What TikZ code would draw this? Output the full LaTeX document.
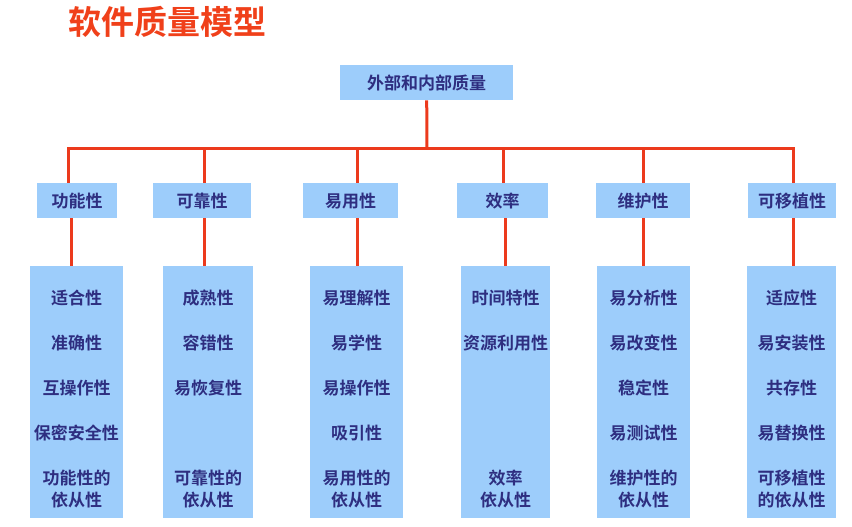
\documentclass[tikz,border=0pt]{standalone}
\usepackage{fontspec}
\setmainfont{Noto Sans CJK SC}[BoldFont={Noto Sans CJK SC Bold}]
\definecolor{boxblue}{HTML}{9DCDFB}
\definecolor{txt}{HTML}{2E2E80}
\definecolor{ln}{HTML}{EC3A1C}
\definecolor{ttl}{HTML}{F0401A}
\begin{document}
\begin{tikzpicture}[x=1pt,y=-1pt,
  bx/.style={fill=boxblue,draw=none,inner sep=0pt,anchor=north west},
  lab/.style={text=txt,font=\fontsize{17}{22}\selectfont\bfseries,align=center,inner sep=0pt},
  con/.style={draw=ln,line width=3pt}]
\useasboundingbox (0,0) rectangle (852,527);
\node[text=ttl,font=\fontsize{33}{36}\selectfont\bfseries,anchor=west,inner sep=0pt] (title) at (68,22) {软件质量模型};
\node[bx,minimum width=173pt,minimum height=35pt] (root) at (340,65) {};
\node[lab] (rootl) at (root.center) {外部和内部质量};
\coordinate (hl) at (68,148); \coordinate (hr) at (793,148);
\coordinate (rb) at (427,148);
\draw[con] (root.south) -- (rb);
\draw[con] ([yshift=-1.5pt]hl) -- (hl) -- (hr) -- ([yshift=-1.5pt]hr);
\foreach \n/\t/\xa/\w/\d/\ta/\tw/\lx in {
 a/功能性/37/80/68/30/93/71,
 b/可靠性/153/98/204/163/90/204,
 c/易用性/303/95/357/310/93/357,
 d/效率/457/91/503/461/89/505,
 e/维护性/596/94/643/597/93/643,
 f/可移植性/748/88/793/747/89/793}{
  \node[bx,minimum width=\w pt,minimum height=35pt] (c\n) at (\xa,183) {};
  \node[lab] (cl\n) at (c\n.center) {\t};
  \node[bx,minimum width=\tw pt,minimum height=252pt] (t\n) at (\ta,266) {};
  \coordinate (dt\n) at (\d,148);
  \draw[con] (dt\n) -- (\d,183);
  \draw[con] (\lx,218) -- (\lx,266);
}
\foreach \n/\x/\i/\j/\k/\l/\m in {
 a/76.5/适合性/准确性/互操作性/保密安全性/功能性的\\依从性,
 b/208/成熟性/容错性/易恢复性//可靠性的\\依从性,
 c/356.5/易理解性/易学性/易操作性/吸引性/易用性的\\依从性,
 d/505.5/时间特性/资源利用性///效率\\依从性,
 e/643.5/易分析性/易改变性/稳定性/易测试性/维护性的\\依从性,
 f/791.5/适应性/易安装性/共存性/易替换性/可移植性\\的依从性}{
  \node[lab] (i1\n) at (\x,298) {\i};
  \node[lab] (i2\n) at (\x,343) {\j};
  \node[lab] (i3\n) at (\x,388) {\k};
  \node[lab] (i4\n) at (\x,433) {\l};
  \node[lab] (i5\n) at (\x,489) {\m};
}
\end{tikzpicture}
\end{document}
